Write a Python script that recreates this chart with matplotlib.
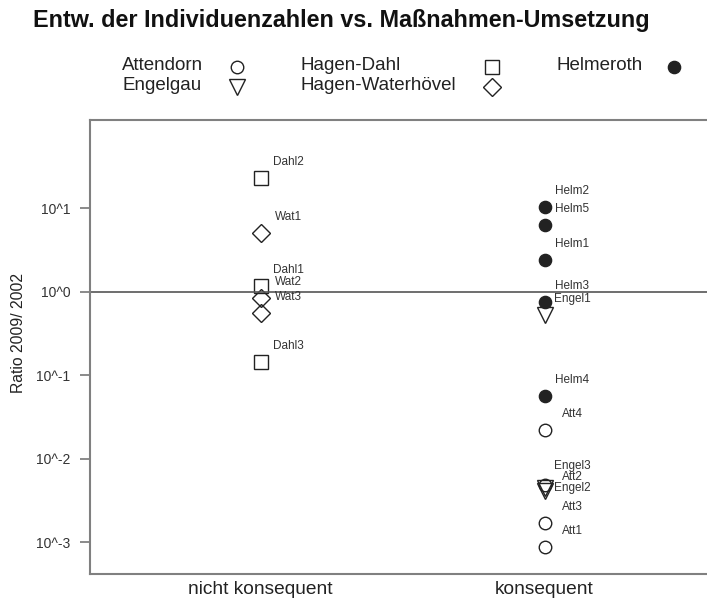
import numpy as np
import matplotlib
matplotlib.use("Agg")
import matplotlib.pyplot as plt
from matplotlib.lines import Line2D

plt.rcParams['font.family'] = ['Liberation Sans', 'DejaVu Sans']

# data
categories = ["nicht konsequent", "konsequent"]

site_names = ["Attendorn", "Engelgau", "Hagen-Dahl", "Hagen-Waterhövel", "Helmeroth"]

labels = ["Dahl2", "Wat1", "Dahl1", "Wat2", "Wat3", "Dahl3",
          "Helm2", "Helm5", "Helm1", "Helm3", "Engel1", "Helm4",
          "Att4", "Engel3", "Att2", "Engel2", "Att3", "Att1"]
group = [0, 0, 0, 0, 0, 0,
         1, 1, 1, 1, 1, 1,
         1, 1, 1, 1, 1, 1]
site = ["Hagen-Dahl", "Hagen-Waterhövel", "Hagen-Dahl", "Hagen-Waterhövel", "Hagen-Waterhövel", "Hagen-Dahl",
        "Helmeroth", "Helmeroth", "Helmeroth", "Helmeroth", "Engelgau", "Helmeroth",
        "Attendorn", "Engelgau", "Attendorn", "Engelgau", "Attendorn", "Attendorn"]
ratio = [23.0, 5.1, 1.17, 0.84, 0.556, 0.145,
         10.4, 6.3, 2.4, 0.76, 0.53, 0.0564,
         0.0221, 0.0044, 0.0048, 0.0041, 0.0017, 0.00088]

yticks = [1e1, 1e0, 1e-1, 1e-2, 1e-3]
yticklabels = ["10^1", "10^0", "10^-1", "10^-2", "10^-3"]

# marker style per site
ink = "#222222"
styles = {
    "Attendorn":        dict(marker="o", ms=9.0, mfc="none"),
    "Engelgau":         dict(marker="v", ms=11.5, mfc="none"),
    "Hagen-Dahl":       dict(marker="s", ms=9.5, mfc="none"),
    "Hagen-Waterhövel": dict(marker="D", ms=9.0, mfc="none"),
    "Helmeroth":        dict(marker="o", ms=8.8, mfc=ink),
}

# label offsets (points) - mostly the same, a few nudged where they crowd
offsets = {l: (20, 11.5) for l in labels}
offsets["Engel3"] = (20, 16.5)
offsets["Att2"] = (20, 6)
offsets["Engel2"] = (20, 2)

W, H = 707, 601
fig = plt.figure(figsize=(W / 100, H / 100), dpi=100)
ax = fig.add_axes([90 / W, (H - 574) / H, (722 - 90) / W, (574 - 120) / H])

for x, y, s, l in zip(group, ratio, site, labels):
    ax.plot(x, y, linestyle="none", mec=ink, mew=1.0, **styles[s])
    ax.annotate(l, (x, y), xytext=offsets[l], textcoords="offset points",
                ha="center", va="center", fontsize=8.5, color="#333333")

ax.axhline(1, color="#555555", lw=1.2)

ax.set_yscale("log")
ax.set_xlim(-0.6007, 1.625)
ax.set_ylim(10 ** -3.381, 10 ** 2.056)
ax.set_yticks(yticks)
ax.set_yticklabels(yticklabels)
ax.yaxis.set_minor_locator(matplotlib.ticker.NullLocator())
ax.set_xticks([0, 1])
ax.set_xticklabels(categories)

ax.tick_params(axis="y", length=7, width=1.2, color="#777777", pad=7, labelsize=10, labelcolor="#333333")
ax.tick_params(axis="x", length=0, pad=5, labelsize=13.8, labelcolor="#222222")

for side in ["left", "top", "bottom"]:
    ax.spines[side].set_color("#808080")
    ax.spines[side].set_linewidth(1.5)
ax.spines["right"].set_visible(False)

ax.set_ylabel("Ratio 2009/ 2002", fontsize=11.3, color="#222222")
ax.yaxis.set_label_coords((26 - 90) / 632, (574 - 333) / 454)

# title
fig.text(33 / W, 1 - 20 / H, "Entw. der Individuenzahlen vs. Maßnahmen-Umsetzung",
         ha="left", va="center", fontsize=16.8, fontweight="bold", color="#111111")

# legend drawn by hand: text left, symbol to the right
text_x = [122, 122, 300, 300, 557]
mark_x = [237, 237, 492, 492, 674]
row_y = [66, 86, 66, 86, 66]
for name, tx, mx, ry in zip(site_names, text_x, mark_x, row_y):
    fig.text(tx / W, 1 - ry / H, name, ha="left", va="center", fontsize=13.5, color="#222222")
    st = dict(styles[name])
    fig.add_artist(Line2D([mx / W], [1 - (ry + 1) / H], transform=fig.transFigure,
                          linestyle="none", mec=ink, mew=1.0, **st))

fig.savefig("out.png", dpi=100)
